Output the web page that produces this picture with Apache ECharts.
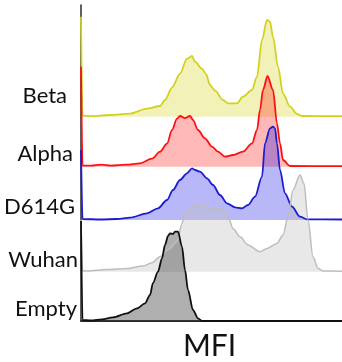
<!DOCTYPE html>
<html>
<head>
<meta charset="utf-8">
<script src="https://cdn.jsdelivr.net/npm/echarts@6/dist/echarts.min.js"></script>
<style>
html, body { margin: 0; padding: 0; background: #fff; }
#main { width: 342px; height: 362px; }
</style>
</head>
<body>
<div id="main"></div>
<script>
// flow histograms, [MFI channel, normalized count]
const names = ['Beta', 'Alpha', 'D614G', 'Wuhan', 'Empty'];

const beta = [[0,100],[1.5,1],[10,0.5],[29,1.7],[49,3],[66,8],[79,10.7],[84,16.7],[91,29],[99,43],[106,58],[111,60.7],[114,55],[121,48],[125,42.7],[129,31.7],[134,26],[142,16.7],[147,13.3],[156,13.3],[162,20],[171,26.7],[176,40],[181,76.7],[186,96.7],[189,95],[192,80],[197,50],[202,23.3],[209,10],[216,2.7],[221,0.7],[261,0.5]];

const alpha = [[0,100],[1.5,1],[10,1],[20,2],[30,1],[45,2],[59,3.3],[71,8],[79,15],[86,23],[91,36.7],[96,48],[99,50.7],[104,48.5],[109,50.7],[112,46.7],[117,36.7],[124,28.3],[131,20],[137,15],[144,10],[152,11.7],[162,15],[171,23.3],[176,36.7],[179,56.7],[182,76.7],[186.5,90.7],[192,76.7],[196,43.3],[199,23.3],[202,6.7],[209,0.7],[261,0.5]];

const d614g = [[0,70],[1.5,1],[20,0.5],[36,1],[49,2.3],[66,6.7],[77,11.7],[86,20],[92,30],[99,40],[106,46.7],[111,51.7],[114,50],[119,48.3],[126,41.7],[132,35],[139,25],[146,16.7],[154,12.7],[161,11.7],[167,15],[174,23.3],[181,43.3],[184,76.7],[189,91.7],[192,93.3],[194,91.7],[196,76.7],[199,50],[204,26.7],[211,13.3],[219,3.3],[226,0.7],[261,0.5]];

const wuhan = [[0,52],[1.5,1],[6,0.7],[26,2.3],[46,3.3],[62,5.7],[71,9],[79,15],[87,22],[96,30],[101,48.3],[104,60],[112,65],[117,66],[121,69.3],[124,64],[126,65],[131,62.3],[133,64],[136,61.7],[139,63],[142,62.3],[147,55],[152,43.3],[159,35],[167,26.7],[179,20],[186,23.3],[196,28.3],[202,36.7],[207,55],[212,81.7],[219,96.7],[223,88.3],[227,51.7],[232,15],[237,3.3],[242,0.7],[261,0.5]];

const empty = [[0,100],[1.5,1],[10,0.5],[21,1.7],[32,3.7],[46,7.7],[56,12.7],[64,17.7],[69,26],[72,38],[77,49.3],[81,62.7],[84,76],[87,85],[89,87.7],[92,87],[94,89.3],[97,89.3],[101,74.3],[104,51],[107,31],[112,11],[117,2.7],[121,0],[261,0]];

const traces = [beta, alpha, d614g, wuhan, empty];

// layout
const lineColors = ['#d2d21e', '#ff1010', '#1c1cd0', '#bdbdbd', '#111111'];
const fillColors = ['rgba(208,208,0,0.4)', 'rgba(255,0,0,0.4)', 'rgba(0,0,230,0.4)', 'rgba(190,190,190,0.5)', 'rgba(64,64,64,0.6)'];
const baselines = [116.7, 166.7, 220, 271.7, 321];
const labelRight = [67, 73, 75, 78, 77];
const labelMid = [98, 156, 209, 262, 311];
const plotTop = 5;

let myChart = echarts.init(document.getElementById('main'));

let grids = [], xAxes = [], yAxes = [], series = [], texts = [];
traces.forEach((d, i) => {
  let last = i === traces.length - 1;
  grids.push({
    left: 81, right: 0, top: plotTop, bottom: 362 - baselines[i],
    show: false
  });
  xAxes.push({
    type: 'value', gridIndex: i, min: 0, max: 261,
    axisLine: { show: last, onZero: false, lineStyle: { color: '#333', width: 2 } },
    axisTick: { show: false }, axisLabel: { show: false }, splitLine: { show: false }
  });
  yAxes.push({
    type: 'value', gridIndex: i, min: 0, max: baselines[i] - plotTop,
    axisLine: { show: last, lineStyle: { color: '#2a2a2a', width: 1.5 } },
    axisTick: { show: false },
    axisLabel: { show: false }, splitLine: { show: false }
  });
  series.push({
    name: names[i], type: 'line', xAxisIndex: i, yAxisIndex: i,
    data: d, showSymbol: false, smooth: 0.3, smoothMonotone: 'x',
    lineStyle: { color: lineColors[i], width: i === 3 ? 1.5 : 1.8 },
    areaStyle: { color: fillColors[i] }
  });
  texts.push({
    type: 'text', right: 342 - labelRight[i], top: labelMid[i] - 13,
    style: { text: names[i], font: '22px Lato', fill: '#111' }
  });
});

// top frame line, on the last (full height) grid's secondary x axis
xAxes.push({
  type: 'value', gridIndex: 4, position: 'top', min: 0, max: 261,
  axisLine: { show: true, lineStyle: { color: '#2a2a2a', width: 1.5 } },
  axisTick: { show: false }, axisLabel: { show: false }, splitLine: { show: false }
});

texts.push({
  type: 'text', left: 183, top: 331,
  style: { text: 'MFI', font: '30px Lato', fill: '#111' }
});

let option = {
  animation: false,
  backgroundColor: '#fff',
  grid: grids,
  xAxis: xAxes,
  yAxis: yAxes,
  series: series,
  graphic: texts
};
myChart.setOption(option);
</script>
</body>
</html>
